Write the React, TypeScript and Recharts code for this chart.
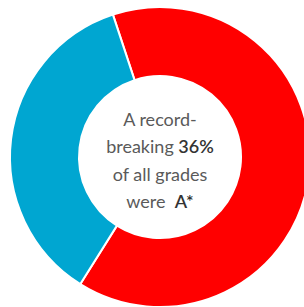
import { PieChart, Pie, Cell } from 'recharts';

// Share of A* grades vs everything else
const gradeShares = [
  { name: 'Other grades', value: 64 },
  { name: 'A*', value: 36 },
];
const sliceColors = ['#FF0000', '#00A6D1'];

// Centre caption, one entry per line; bold parts flagged
const captionLines = [
  [{ text: 'A record-', bold: false }],
  [{ text: 'breaking ', bold: false }, { text: '36%', bold: true }],
  [{ text: 'of all grades', bold: false }],
  [{ text: 'were\u00a0\u00a0', bold: false }, { text: 'A*', bold: true }],
];

const CX = 160;
const CY = 157;

function CenterCaption() {
  const lineHeight = 27.3;
  const firstBaseline = CY - 31;
  return (
    <svg width={304} height={307} style={{ position: 'absolute', left: 0, top: 0, pointerEvents: 'none' }}>
      <text x={CX} y={firstBaseline} textAnchor="middle" fontFamily="Lato, 'Open Sans', sans-serif" fontSize={18}>
        {captionLines.map((line, i) => (
          <tspan key={i} x={CX} y={firstBaseline + i * lineHeight}>
            {line.map((part, j) => (
              <tspan
                key={j}
                fill={part.bold ? '#333333' : '#5a5a5a'}
                fontWeight={part.bold ? 600 : 400}
              >
                {part.text}
              </tspan>
            ))}
          </tspan>
        ))}
      </text>
    </svg>
  );
}

export default function App() {
  return (
    <div style={{ position: 'fixed', left: 0, top: 0, width: 304, height: 307, overflow: 'hidden', background: '#fff' }}>
      <PieChart width={304} height={307} margin={{ top: 0, right: 0, bottom: 0, left: 0 }}>
        <Pie
          data={gradeShares}
          dataKey="value"
          cx={CX}
          cy={CY}
          innerRadius={81}
          outerRadius={150}
          startAngle={108.3}
          endAngle={-251.7}
          stroke="#ffffff"
          strokeWidth={2}
          isAnimationActive={false}
        >
          {gradeShares.map((entry, index) => (
            <Cell key={`cell-${index}`} fill={sliceColors[index]} />
          ))}
        </Pie>
      </PieChart>
      <CenterCaption />
    </div>
  );
}
